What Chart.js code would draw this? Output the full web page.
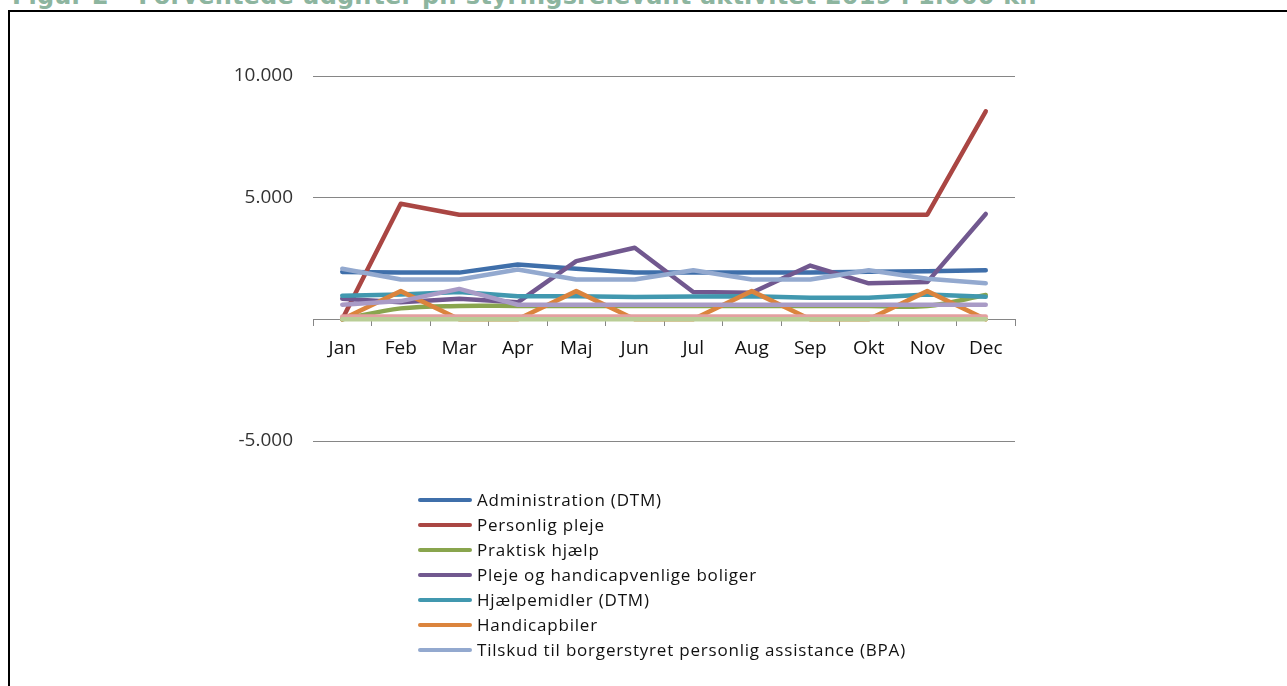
<!DOCTYPE html>
<html lang="da">
<head>
<meta charset="utf-8">
<title>Figur 2</title>
<script src="https://cdn.jsdelivr.net/npm/chart.js@4.4.0/dist/chart.umd.min.js"></script>
<style>
  html, body { margin: 0; padding: 0; background: #fff; overflow: hidden; }
  body { width: 1287px; height: 686px; position: relative; }
  #title {
    position: absolute; left: 12px; top: -16px; white-space: nowrap;
    font: bold 24px "DejaVu Sans", Verdana, sans-serif; color: #8db59f;
    letter-spacing: 0.17px; line-height: 24px;
  }
  #frame {
    position: absolute; left: 8px; top: 10px; width: 1400px; height: 800px;
    border-left: 2px solid #000; border-top: 2px solid #000;
  }
  #chart { position: absolute; left: 0; top: 0; }
  #legend {
    position: absolute; left: 418px; top: 487px;
    font: 17px "Open Sans", sans-serif; letter-spacing: 0.8px; color: #111;
  }
  #legend .item { display: flex; align-items: center; height: 25px; }
  #legend .swatch { width: 54px; height: 4px; border-radius: 2px; margin-right: 5px; }
</style>
</head>
<body>
<div id="title">Figur 2 – Forventede udgifter pr. styringsrelevant aktivitet 2019 i 1.000 kr.</div>
<div id="frame"></div>
<canvas id="chart" width="1287" height="686"></canvas>
<div id="legend"></div>
<script>
// Måneder og værdier (1.000 kr.)
const months = ['Jan', 'Feb', 'Mar', 'Apr', 'Maj', 'Jun', 'Jul', 'Aug', 'Sep', 'Okt', 'Nov', 'Dec'];

const administration = [1950, 1920, 1920, 2250, 2080, 1920, 1920, 1920, 1920, 1960, 1980, 2020];
const personligPleje = [0, 4750, 4300, 4300, 4300, 4300, 4300, 4300, 4300, 4300, 4300, 8550];
const praktiskHjaelp = [0, 450, 550, 550, 550, 550, 550, 550, 550, 550, 550, 1000];
const plejeBoliger = [850, 700, 850, 700, 2390, 2940, 1120, 1090, 2210, 1480, 1530, 4330];
const hjaelpemidler = [970, 1020, 1120, 950, 950, 920, 940, 950, 890, 890, 1020, 930];
const handicapbiler = [0, 1160, 0, 0, 1160, 0, 0, 1160, 0, 0, 1160, 0];
const bpa = [2080, 1640, 1640, 2050, 1640, 1640, 2020, 1640, 1640, 2020, 1670, 1480];
// serier uden synlig forklaring (forklaringen er beskåret i originalen)
const serie8 = [120, 120, 120, 120, 120, 120, 120, 120, 120, 120, 120, 120];
const serie9 = [0, 0, 0, 0, 0, 0, 0, 0, 0, 0, 0, 0];
const serie10 = [600, 750, 1250, 600, 600, 600, 600, 600, 600, 600, 600, 600];

const yTicks = [-5000, 0, 5000, 10000];

const seriesList = [
  { label: 'Administration (DTM)', data: administration, color: '#3f6faa', legend: true },
  { label: 'Personlig pleje', data: personligPleje, color: '#aa4643', legend: true },
  { label: 'Praktisk hjælp', data: praktiskHjaelp, color: '#89a54e', legend: true, tension: 0.35 },
  { label: 'Pleje og handicapvenlige boliger', data: plejeBoliger, color: '#71588f', legend: true },
  { label: 'Hjælpemidler (DTM)', data: hjaelpemidler, color: '#4198af', legend: true },
  { label: 'Handicapbiler', data: handicapbiler, color: '#db843d', legend: true },
  { label: 'Tilskud til borgerstyret personlig assistance (BPA)', data: bpa, color: '#93a9cf', legend: true },
  { label: 'Serie 8', data: serie8, color: '#e3a0a0', legend: false },
  { label: 'Serie 9', data: serie9, color: '#b9cd96', legend: false },
  { label: 'Serie 10', data: serie10, color: '#a99bc6', legend: false }
];

function fmt(v) {
  if (v === 0) return '';
  const s = String(Math.abs(v)).replace(/\B(?=(\d{3})+(?!\d))/g, '.');
  return (v < 0 ? '-' : '') + s;
}

Chart.defaults.font.family = "'Open Sans', sans-serif";
Chart.defaults.color = '#222';

const chart = new Chart(document.getElementById('chart'), {
  type: 'line',
  data: {
    labels: months,
    datasets: seriesList.map((s, i) => ({
      label: s.label,
      data: s.data,
      borderColor: s.color,
      backgroundColor: s.color,
      borderWidth: 4.5,
      borderCapStyle: 'round',
      borderJoinStyle: 'round',
      pointRadius: 0,
      tension: s.tension || 0,
      fill: false,
      order: -i  // senere serier tegnes øverst, som i Excel
    }))
  },
  options: {
    responsive: false,
    animation: false,
    layout: { padding: { left: 0, right: 272, top: 76, bottom: 245 } },
    scales: {
      x: {
        position: { y: 0 },
        offset: true,
        grid: { offset: true, drawOnChartArea: false, drawTicks: true, tickLength: 6, color: '#868686' },
        border: { display: true, color: '#868686', width: 1 },
        ticks: { padding: 12, font: { size: 19 }, color: '#111' }
      },
      y: {
        min: -5000,
        max: 10000,
        afterFit: (scale) => { scale.width = 313; },
        afterBuildTicks: (scale) => { scale.ticks = yTicks.map(v => ({ value: v })); },
        grid: { color: '#868686', drawTicks: false },
        border: { display: false },
        ticks: { padding: 20, font: { size: 19 }, color: '#333', callback: (v) => fmt(v) }
      }
    },
    plugins: {
      legend: { display: false },
      tooltip: { enabled: false }
    }
  }
});

// forklaring som html, bygget ud fra datasættene
const legendEl = document.getElementById('legend');
chart.data.datasets.forEach((ds, i) => {
  if (!seriesList[i].legend) return;
  const row = document.createElement('div');
  row.className = 'item';
  const sw = document.createElement('span');
  sw.className = 'swatch';
  sw.style.background = ds.borderColor;
  const txt = document.createElement('span');
  txt.textContent = ds.label;
  row.appendChild(sw);
  row.appendChild(txt);
  legendEl.appendChild(row);
});
</script>
</body>
</html>
